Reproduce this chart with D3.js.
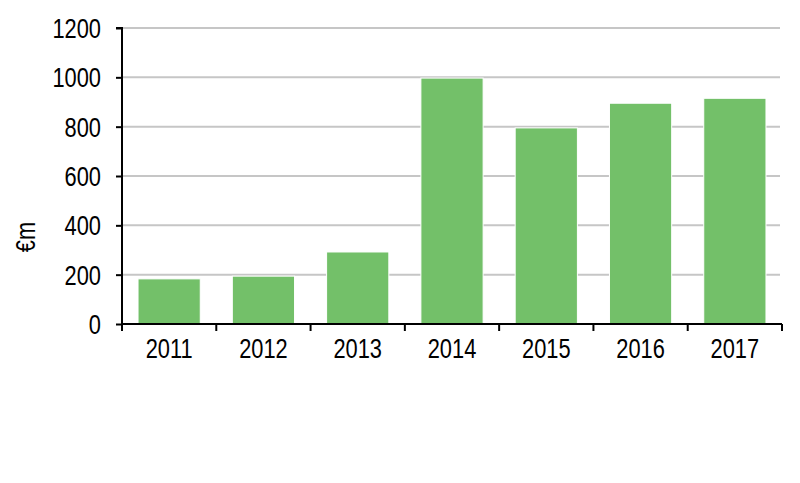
<!DOCTYPE html>
<html><head><meta charset="utf-8">
<script src="https://cdn.jsdelivr.net/npm/d3@7"></script>
<style>body{margin:0;background:#fff}svg text{font-family:"Liberation Sans",Arial,sans-serif}</style>
</head><body><svg id="c" width="800" height="483"></svg>
<script>
const categories = ["2011","2012","2013","2014","2015","2016","2017"];
const values = [183, 194, 292, 997, 795, 895, 915];
const yTicks = [0,200,400,600,800,1000,1200];
const yLabel = "€m";

(function(){
const svg = d3.select("#c");
const mL = 122, mR = 782, mT = 28, mB = 324;
const FS = 28, SX = 0.78;
const x = d3.scaleBand().domain(categories).range([mL, mR]).paddingInner(0.34).paddingOuter(0.17);
const y = d3.scaleLinear().domain([0,1200]).range([mB, mT]);

svg.append("g").selectAll("line").data(yTicks.filter(d=>d>0)).join("line")
  .attr("x1", mL).attr("x2", mR-2).attr("y1", d=>y(d)).attr("y2", d=>y(d))
  .attr("stroke", "#c6c6c6").attr("stroke-width", 2);

svg.append("g").selectAll("rect").data(values).join("rect")
  .attr("x", (d,i)=>x(categories[i])).attr("width", x.bandwidth())
  .attr("y", d=>y(d)).attr("height", d=>mB - y(d))
  .attr("fill", "#73c069").attr("stroke", "#fff").attr("stroke-width", 1);

const ya = svg.append("g").attr("transform", `translate(${mL},0)`)
  .call(d3.axisLeft(y).tickValues(yTicks).tickSize(6).tickFormat(""));
ya.select(".domain").attr("stroke","#000").attr("stroke-width",2).attr("d", `M-6,${mT}H0V${mB}`);
ya.selectAll(".tick line").attr("stroke","#000").attr("stroke-width",2);
ya.selectAll(".tick text").remove();
svg.append("g").selectAll("text").data(yTicks).join("text")
  .attr("transform", d=>`translate(101,${y(d)+10}) scale(${SX},1)`)
  .attr("text-anchor","end").attr("font-size",FS).attr("fill","#000").text(d=>d);

const xa = svg.append("g").attr("transform", `translate(0,${mB})`);
xa.append("line").attr("x1", mL).attr("x2", mR).attr("y1",0).attr("y2",0).attr("stroke","#000").attr("stroke-width",2);
const bounds = categories.map((c,i)=> mL + i*(mR-mL)/categories.length).concat([mR]);
xa.selectAll(".tk").data(bounds).join("line").attr("class","tk")
  .attr("x1", d=>d).attr("x2", d=>d).attr("y1",0).attr("y2",7).attr("stroke","#000").attr("stroke-width",2);
xa.selectAll(".lb").data(categories).join("text").attr("class","lb")
  .attr("transform", d=>`translate(${x(d)+x.bandwidth()/2},34) scale(${SX},1)`)
  .attr("text-anchor","middle").attr("font-size",FS).attr("fill","#000").text(d=>d);

svg.append("text").attr("transform", `translate(35,237) rotate(-90) scale(${SX},1)`)
  .attr("text-anchor","middle").attr("font-size",FS).attr("fill","#000").text(yLabel);
})();
</script></body></html>
